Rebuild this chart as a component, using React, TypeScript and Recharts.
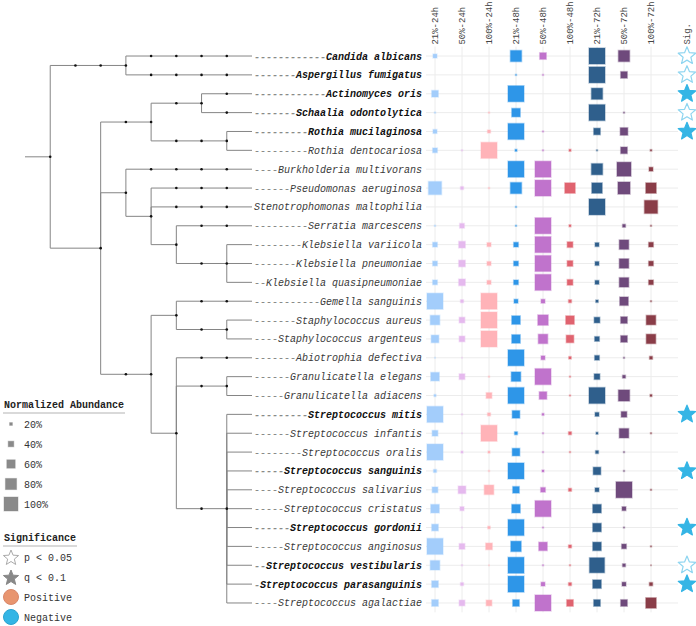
import React from 'react'
import { ScatterChart, Scatter, XAxis, YAxis, ReferenceLine } from 'recharts'

const W = 696
const H = 626
const MONO = '"Liberation Mono", "DejaVu Sans Mono", monospace'

const SPECIES = [
  'Candida albicans', 'Aspergillus fumigatus', 'Actinomyces oris', 'Schaalia odontolytica',
  'Rothia mucilaginosa', 'Rothia dentocariosa', 'Burkholderia multivorans', 'Pseudomonas aeruginosa',
  'Stenotrophomonas maltophilia', 'Serratia marcescens', 'Klebsiella variicola', 'Klebsiella pneumoniae',
  'Klebsiella quasipneumoniae', 'Gemella sanguinis', 'Staphylococcus aureus', 'Staphylococcus argenteus',
  'Abiotrophia defectiva', 'Granulicatella elegans', 'Granulicatella adiacens', 'Streptococcus mitis',
  'Streptococcus infantis', 'Streptococcus oralis', 'Streptococcus sanguinis', 'Streptococcus salivarius',
  'Streptococcus cristatus', 'Streptococcus gordonii', 'Streptococcus anginosus', 'Streptococcus vestibularis',
  'Streptococcus parasanguinis', 'Streptococcus agalactiae',
]

// significant taxa are printed in bold
const BOLD = [
  'Candida albicans', 'Aspergillus fumigatus', 'Actinomyces oris', 'Schaalia odontolytica',
  'Rothia mucilaginosa', 'Streptococcus mitis', 'Streptococcus sanguinis', 'Streptococcus gordonii',
  'Streptococcus vestibularis', 'Streptococcus parasanguinis',
]

// p = p < 0.05 (open star), q = q < 0.1 (filled star)
const SIG = [
  'p', 'p', 'q', 'p', 'q', '', '', '', '', '', '', '', '', '', '',
  '', '', '', '', 'q', '', '', 'q', '', '', 'q', '', 'p', 'q', '',
]

const COLUMNS = ['21%-24h', '50%-24h', '100%-24h', '21%-48h', '50%-48h', '100%-48h', '21%-72h', '50%-72h', '100%-72h']
const COLUMN_COLORS = ['#a3cdfb', '#e5b9ee', '#ffb3b8', '#2e96e8', '#c073cc', '#e0636f', '#2f5f8c', '#6f4a7c', '#8a3d48']

// normalized abundance per species (same order as SPECIES)
const AB_21_24 = [0.24, 0, 0.41, 0.06, 0.24, 0.29, 0, 0.82, 0, 0.06, 0.29, 0.29, 0.29, 1, 0.59, 0.47, 0.03, 0.53, 0.12, 1, 0.35, 1, 0.18, 0.35, 0.53, 0.41, 1, 0.59, 0.41, 0.41]
const AB_50_24 = [0, 0, 0, 0, 0, 0.06, 0, 0.18, 0, 0.29, 0.41, 0.41, 0.41, 0.18, 0.35, 0.35, 0.03, 0.35, 0, 0.06, 0.03, 0.12, 0, 0.47, 0.24, 0.03, 0.35, 0.06, 0.18, 0.35]
const AB_100_24 = [0, 0, 0, 0.06, 0.18, 1, 0, 0.06, 0, 0, 0.24, 0.24, 0.24, 1, 1, 1, 0, 0.06, 0.35, 0.18, 1, 0.12, 0.06, 0.59, 0, 0.15, 0.41, 0.03, 0, 0.35]
const AB_21_48 = [0.7, 0.06, 1, 0.53, 1, 0.12, 1, 0.7, 0.06, 0.06, 0.29, 0.29, 0.29, 0.24, 0.53, 0.53, 1, 0.59, 1, 0.47, 0.18, 0.47, 1, 0.41, 0.53, 1, 0.65, 1, 1, 0.41]
const AB_50_48 = [0.41, 0.06, 0, 0, 0.06, 0.06, 1, 1, 0, 1, 1, 1, 1, 0.24, 0.65, 0.59, 0.24, 1, 0.47, 0.12, 0.06, 0.06, 0.12, 0.29, 1, 0.06, 0.53, 0.06, 0.24, 1]
const AB_100_48 = [0, 0, 0, 0, 0, 0.12, 0, 0.65, 0, 0.12, 0.35, 0.35, 0.35, 0.18, 0.53, 0.47, 0.15, 0.06, 0.06, 0, 0.18, 0.06, 0, 0.18, 0, 0, 0.18, 0.06, 0.18, 0.41]
const AB_21_72 = [1, 1, 0.7, 1, 0.41, 0.06, 0.7, 0.65, 1, 0, 0.24, 0.24, 0.24, 0.15, 0.35, 0.29, 0.29, 0.35, 1, 0.24, 0.12, 0.18, 0.47, 0.24, 0.53, 0.53, 0.53, 0.94, 0.53, 0.41]
const AB_50_72 = [0.7, 0.41, 0, 0.06, 0.47, 0.41, 0.88, 0.76, 0, 0.18, 0.59, 0.59, 0.59, 0.53, 0.41, 0.41, 0.06, 0.18, 0.7, 0.35, 0.59, 0.06, 0.06, 1, 0.24, 0.06, 0.29, 0.18, 0.24, 0.41]
const AB_100_72 = [0, 0, 0, 0, 0, 0.09, 0.24, 0.65, 0.82, 0.06, 0.29, 0.29, 0.29, 0.06, 0.59, 0.59, 0.18, 0, 0.12, 0, 0.06, 0, 0, 0.06, 0, 0, 0.06, 0.03, 0.2, 0.65]

const COLUMN_VALUES = [AB_21_24, AB_50_24, AB_100_24, AB_21_48, AB_50_48, AB_100_48, AB_21_72, AB_50_72, AB_100_72]

// taxonomy tree: internal nodes with their rank depth (0 = root, 8 = species tip)
const TREE_NODES = [
  { id: 'root', parent: '', depth: 0 },
  { id: 'fungi', parent: 'root', depth: 3 },
  { id: 'bacteria', parent: 'root', depth: 2 },
  { id: 'actino', parent: 'bacteria', depth: 4 },
  { id: 'actinomycetaceae', parent: 'actino', depth: 6 },
  { id: 'rothia', parent: 'actino', depth: 7 },
  { id: 'proteo', parent: 'bacteria', depth: 3 },
  { id: 'gamma', parent: 'proteo', depth: 4 },
  { id: 'entero', parent: 'gamma', depth: 5 },
  { id: 'klebsiella', parent: 'entero', depth: 7 },
  { id: 'firmicutes', parent: 'bacteria', depth: 4 },
  { id: 'bacillales', parent: 'firmicutes', depth: 5 },
  { id: 'staph', parent: 'bacillales', depth: 7 },
  { id: 'lacto', parent: 'firmicutes', depth: 5 },
  { id: 'granulicatella', parent: 'lacto', depth: 7 },
  { id: 'strep', parent: 'lacto', depth: 7 },
]
const LEAF_PARENT = [
  'fungi', 'fungi', 'actinomycetaceae', 'actinomycetaceae', 'rothia', 'rothia', 'proteo', 'gamma',
  'gamma', 'entero', 'klebsiella', 'klebsiella', 'klebsiella', 'bacillales', 'staph', 'staph',
  'lacto', 'granulicatella', 'granulicatella', 'strep', 'strep', 'strep', 'strep', 'strep',
  'strep', 'strep', 'strep', 'strep', 'strep', 'strep',
]
const NO_RANK_DOTS = ['bacteria']
const TIP_DEPTH = 8
const SIG_X = 9.333
const LEGEND_STEPS = [0.2, 0.4, 0.6, 0.8, 1]

// ---- tree layout (rows from leaves, internal = midpoint of children) ----
type TNode = { id: string; parent: string; depth: number; row: number }
const nodes: Record<string, TNode> = {}
TREE_NODES.forEach(n => { nodes[n.id] = { ...n, row: NaN } })
const leaves: TNode[] = SPECIES.map((s, i) => ({ id: s, parent: LEAF_PARENT[i], depth: TIP_DEPTH, row: i }))
const allNodes = [...Object.values(nodes), ...leaves]
const childrenOf = (id: string) => allNodes.filter(n => n.parent === id)
const rowOf = (n: TNode): number => {
  if (!isNaN(n.row)) return n.row
  const rows = childrenOf(n.id).map(rowOf)
  n.row = (Math.min(...rows) + Math.max(...rows)) / 2
  return n.row
}
allNodes.forEach(rowOf)

const segments: { x1: number; y1: number; x2: number; y2: number }[] = []
const dots: { x: number; y: number }[] = [{ x: 0, y: nodes.root.row }]
segments.push({ x1: -1, y1: nodes.root.row, x2: 0, y2: nodes.root.row })
allNodes.forEach(n => {
  if (!n.parent) return
  const p = nodes[n.parent]
  segments.push({ x1: p.depth, y1: p.row, x2: p.depth, y2: n.row })
  segments.push({ x1: p.depth, y1: n.row, x2: n.depth, y2: n.row })
  const start = NO_RANK_DOTS.includes(n.id) ? n.depth : p.depth + 1
  for (let d = start; d <= Math.min(n.depth, TIP_DEPTH - 1); d++) dots.push({ x: d, y: n.row })
})

const leafData = SPECIES.map((s, i) => ({ x: TIP_DEPTH, y: i, name: s }))
const sigData = SIG.map((s, i) => ({ x: SIG_X, y: i, sig: s })).filter(d => d.sig)

const starPath = (cx: number, cy: number, R: number, r: number) => {
  let d = ''
  for (let i = 0; i < 10; i++) {
    const a = -Math.PI / 2 + (i * Math.PI) / 5
    const rad = i % 2 ? r : R
    d += `${i ? 'L' : 'M'}${(cx + rad * Math.cos(a)).toFixed(2)},${(cy + rad * Math.sin(a)).toFixed(2)}`
  }
  return d + 'Z'
}

const LeafLabel = (props: any) => {
  const { cx, cy, payload } = props
  const name: string = payload.name
  const bold = BOLD.includes(name)
  return (
    <text x={cx + 2} y={cy} dy="0.35em" fontFamily={MONO} fontSize={10} fontStyle="italic"
      fontWeight={bold ? 700 : 400}>
      <tspan fill="#8a8a8a">{'-'.repeat(Math.max(0, 28 - name.length))}</tspan>
      <tspan fill={bold ? '#111' : '#3a3a3a'}>{name}</tspan>
    </text>
  )
}

const cellShape = (color: string) => (props: any) => {
  const { cx, cy, payload } = props
  if (!payload.v) return <g />
  const s = payload.v * 16
  return (
    <rect x={cx - s / 2} y={cy - s / 2} width={s} height={s} fill={color}
      stroke={color} strokeOpacity={0.35} strokeWidth={1.5} />
  )
}

const StarShape = (props: any) => {
  const { cx, cy, payload } = props
  const filled = payload.sig === 'q'
  return (
    <path d={starPath(cx, cy, 9.2, 4.1)} fill={filled ? '#35b5e5' : '#fff'}
      stroke={filled ? '#35b5e5' : '#8ed5f0'} strokeWidth={1.2} strokeLinejoin="round" />
  )
}

const HeaderTick = (props: any) => {
  const { x, y, payload } = props
  const label = payload.value === SIG_X ? 'Sig.' : COLUMNS[payload.value]
  return (
    <text transform={`translate(${x},${y}) rotate(-90)`} dy="0.35em" textAnchor="start"
      fontFamily={MONO} fontSize={9} fill="#444">
      {label}
    </text>
  )
}

const Legend = () => (
  <svg width={200} height={H} style={{ position: 'absolute', left: 0, top: 0 }}>
    <g fontFamily={MONO} fontSize={10} fill="#333">
      <text x={4} y={404} dy="0.35em" fontWeight={700} fill="#222">Normalized Abundance</text>
      <line x1={3} x2={125} y1={413} y2={413} stroke="#ccc" strokeWidth={1.5} />
      {LEGEND_STEPS.map((v, i) => {
        const s = v * 14
        const cy = 424 + i * 20
        return (
          <g key={v}>
            <rect x={11 - s / 2} y={cy - s / 2} width={s} height={s} fill="#8a8a8a" stroke="#8a8a8a" strokeOpacity={0.4} />
            <text x={24} y={cy} dy="0.35em">{`${Math.round(v * 100)}%`}</text>
          </g>
        )
      })}
      <text x={4} y={537} dy="0.35em" fontWeight={700} fill="#222">Significance</text>
      <line x1={3} x2={77} y1={546} y2={546} stroke="#ccc" strokeWidth={1.5} />
      <path d={starPath(11, 558, 8, 3.5)} fill="#fff" stroke="#aaa" strokeWidth={1} strokeLinejoin="round" />
      <text x={24} y={557} dy="0.35em">p &lt; 0.05</text>
      <path d={starPath(11, 578, 8, 3.5)} fill="#888" stroke="#888" strokeWidth={1} strokeLinejoin="round" />
      <text x={24} y={577} dy="0.35em">q &lt; 0.1</text>
      <circle cx={11} cy={597} r={7.5} fill="#e8956f" stroke="#d9876a" />
      <text x={24} y={597} dy="0.35em">Positive</text>
      <circle cx={11} cy={617} r={7.5} fill="#33b5e5" stroke="#2aa3d0" />
      <text x={24} y={617} dy="0.35em">Negative</text>
    </g>
  </svg>
)

export default function App() {
  const rows = SPECIES.map((_, i) => i)
  const colTicks = [...COLUMNS.map((_, i) => i), SIG_X]
  return (
    <div style={{ position: 'absolute', left: 0, top: 0, width: W, height: H, background: '#fff' }}>
      <ScatterChart width={W} height={H} margin={{ top: 6.6, right: 0, bottom: 13.6, left: 0 }}>
        <XAxis xAxisId="tree" type="number" dataKey="x" domain={[-1, TIP_DEPTH]} hide
          padding={{ left: 25, right: 444 }} />
        <XAxis xAxisId="cols" type="number" dataKey="x" domain={[-1 / 3, 29 / 3]} orientation="top"
          height={40} padding={{ left: 426, right: 0 }} ticks={colTicks} interval={0}
          axisLine={false} tickLine={false} tickSize={0} tickMargin={2} tick={<HeaderTick />} />
        <YAxis yAxisId={0} type="number" dataKey="y" domain={[-0.5, 29.5]} reversed hide />

        {rows.map(r => (
          <ReferenceLine key={`h${r}`} xAxisId="cols" stroke="#ececec" strokeWidth={1}
            segment={[{ x: -1 / 3, y: r }, { x: 9, y: r }]} />
        ))}
        {COLUMNS.map((c, i) => (
          <ReferenceLine key={`v${c}`} xAxisId="cols" stroke="#ececec" strokeWidth={1}
            segment={[{ x: i, y: -0.5 }, { x: i, y: 29.5 }]} />
        ))}

        {segments.map((s, i) => (
          <ReferenceLine key={`t${i}`} xAxisId="tree" stroke="#858585" strokeWidth={1}
            segment={[{ x: s.x1, y: s.y1 }, { x: s.x2, y: s.y2 }]} />
        ))}
        <Scatter xAxisId="tree" data={dots} isAnimationActive={false}
          shape={(p: any) => <circle cx={p.cx} cy={p.cy} r={1.3} fill="#111" />} />
        <Scatter xAxisId="tree" data={leafData} isAnimationActive={false} shape={<LeafLabel />} />

        {COLUMN_VALUES.map((vals, c) => (
          <Scatter key={COLUMNS[c]} xAxisId="cols" isAnimationActive={false}
            data={vals.map((v, r) => ({ x: c, y: r, v }))} shape={cellShape(COLUMN_COLORS[c])} />
        ))}
        <Scatter xAxisId="cols" data={sigData} isAnimationActive={false} shape={<StarShape />} />
      </ScatterChart>
      <Legend />
    </div>
  )
}
